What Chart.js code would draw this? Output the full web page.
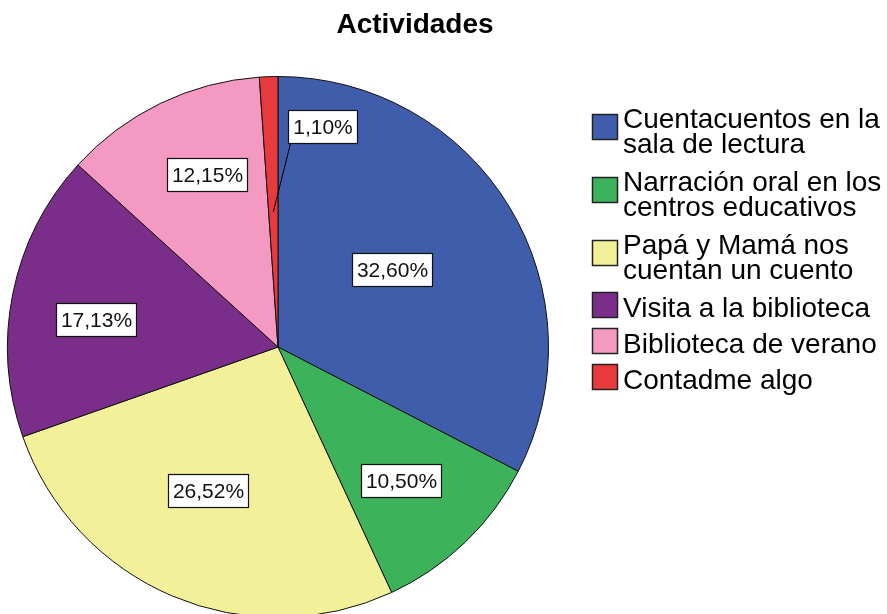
<!DOCTYPE html>
<html>
<head>
<meta charset="utf-8">
<script src="https://cdn.jsdelivr.net/npm/chart.js@4.4.0/dist/chart.umd.min.js"></script>
<style>
  html, body { margin: 0; padding: 0; background: #fff; overflow: hidden; width: 887px; height: 614px; }
  #c { display: block; }
</style>
</head>
<body>
<canvas id="c" width="887" height="640"></canvas>
<script>
// ---- data ----
const chartTitle = "Actividades";
const categories = [
  ["Cuentacuentos en la", "sala de lectura"],
  ["Narración oral en los", "centros educativos"],
  ["Papá y Mamá nos", "cuentan un cuento"],
  ["Visita a la biblioteca"],
  ["Biblioteca de verano"],
  ["Contadme algo"]
];
const percentages = [32.60, 10.50, 26.52, 17.13, 12.15, 1.10];
const sliceColors = ["#3F5DAA", "#3CB35A", "#F3F09A", "#7A2E8A", "#F49AC2", "#E83A3C"];

// label placement (fraction of radius, angular shift in degrees, leader line)
const labelDist = [0.51, 0.67, 0.59, 0.68, 0.69, 0.83];
const labelShift = [-3, 1, 3, -3, 3.6, 13.3];
const labelLeader = [false, false, false, false, false, true];

const FONT = "'Liberation Sans', Arial, 'DejaVu Sans', sans-serif";

function fmt(v) { return v.toFixed(2).replace('.', ',') + '%'; }

const overlay = {
  id: 'overlay',
  afterDraw(chart) {
    const ctx = chart.ctx;
    const meta = chart.getDatasetMeta(0);
    ctx.save();
    // title
    ctx.fillStyle = '#000';
    ctx.font = 'bold 28px ' + FONT;
    ctx.textAlign = 'center';
    ctx.textBaseline = 'alphabetic';
    ctx.fillText(chartTitle, 415, 33);

    // slice labels
    ctx.font = '21px ' + FONT;
    meta.data.forEach((arc, i) => {
      const p = arc.getProps(['x', 'y', 'startAngle', 'endAngle', 'outerRadius'], true);
      const mid = (p.startAngle + p.endAngle) / 2;
      const a = mid + labelShift[i] * Math.PI / 180;
      const d = labelDist[i] * p.outerRadius;
      const cx = p.x + Math.cos(a) * d;
      const cy = p.y + Math.sin(a) * d;
      const txt = fmt(percentages[i]);
      const tw = ctx.measureText(txt).width;
      const bw = Math.round(tw + 9), bh = 33;
      const bx = Math.round(cx - bw / 2) + 0.5, by = Math.round(cy - bh / 2) + 0.5;
      if (labelLeader[i]) {
        const ax = p.x + Math.cos(mid) * p.outerRadius * 0.5;
        const ay = p.y + Math.sin(mid) * p.outerRadius * 0.5;
        ctx.strokeStyle = '#000';
        ctx.lineWidth = 1;
        ctx.beginPath();
        ctx.moveTo(ax, ay);
        ctx.lineTo(bx + 2, by + bh);
        ctx.stroke();
      }
      ctx.fillStyle = '#fff';
      ctx.fillRect(bx, by, bw, bh);
      ctx.strokeStyle = '#111';
      ctx.lineWidth = 1.2;
      ctx.strokeRect(bx, by, bw, bh);
      ctx.fillStyle = '#111';
      ctx.textAlign = 'center';
      ctx.textBaseline = 'middle';
      ctx.fillText(txt, bx + bw / 2, by + bh / 2 + 1);
    });

    // legend
    ctx.font = '28px ' + FONT;
    ctx.textAlign = 'left';
    ctx.textBaseline = 'alphabetic';
    let base = 128;
    categories.forEach((lines, i) => {
      const sqTop = lines.length > 1 ? base - 14 : base - 25;
      ctx.fillStyle = sliceColors[i];
      ctx.fillRect(592.5, sqTop + 0.5, 25, 25);
      ctx.strokeStyle = '#222';
      ctx.lineWidth = 1.5;
      ctx.strokeRect(592.5, sqTop + 0.5, 25, 25);
      ctx.fillStyle = '#000';
      lines.forEach((ln, j) => {
        ctx.fillText(ln, 623, base + j * 25);
      });
      base += (lines.length - 1) * 25 + (lines.length > 1 ? 38 : 36);
    });
    ctx.restore();
  }
};

new Chart(document.getElementById('c'), {
  type: 'pie',
  data: {
    labels: categories,
    datasets: [{
      data: percentages,
      backgroundColor: sliceColors,
      borderColor: '#111',
      borderWidth: 1
    }]
  },
  options: {
    responsive: false,
    animation: false,
    layout: { padding: { left: 7, top: 76, right: 338, bottom: 22 } },
    plugins: {
      legend: { display: false },
      title: { display: false },
      tooltip: { enabled: false }
    }
  },
  plugins: [overlay]
});
</script>
</body>
</html>
